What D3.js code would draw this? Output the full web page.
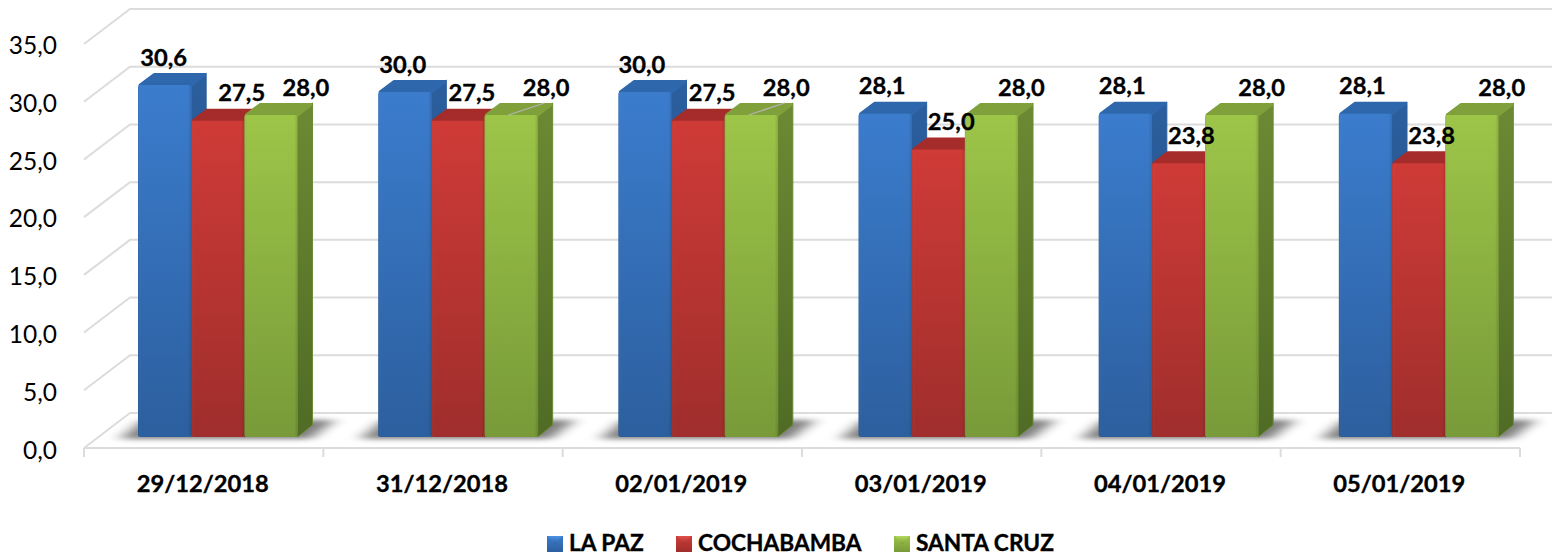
<!DOCTYPE html>
<html><head><meta charset="utf-8">
<script src="https://cdn.jsdelivr.net/npm/d3@7/dist/d3.min.js"></script>
<style>html,body{margin:0;padding:0;background:#fff}svg{display:block}text{font-family:Lato,sans-serif;fill:#000}text.b{stroke:#000;stroke-width:.35px}</style>
</head><body><svg id="c" width="1552" height="555"></svg>
<script>
const categories=["29/12/2018","31/12/2018","02/01/2019","03/01/2019","04/01/2019","05/01/2019"];
const seriesNames=["LA PAZ","COCHABAMBA","SANTA CRUZ"];
const laPaz=[30.6,30.0,30.0,28.1,28.1,28.1];
const cochabamba=[27.5,27.5,27.5,25.0,23.8,23.8];
const santaCruz=[28.0,28.0,28.0,28.0,28.0,28.0];
const seriesValues=[laPaz,cochabamba,santaCruz];
const tickValues=[0,5,10,15,20,25,30,35];
// label nudges in px, as placed by hand in the original
const labelDx=[[-1,-2,-3,-3,-3,-3],[24,14,14,13,13,13],[35,35,35,30,30,30]];
const leaderCategories=["31/12/2018","02/01/2019"];
const palette=[
 {hi:"#4d92e6",top:"#3b7ccd",bot:"#2c5f9e",lid:"#2f67ad",sideT:"#2c5f9f",sideB:"#1f4a7d"},
 {hi:"#e2504c",top:"#cf3b37",bot:"#9f2e2c",lid:"#a52c2a",sideT:"#8f2725",sideB:"#7a2120"},
 {hi:"#b4da5c",top:"#9dc548",bot:"#789a39",lid:"#7fa03b",sideT:"#6c8a33",sideB:"#506b25"}];
const fmt=v=>v.toFixed(1).replace(".",",");
const svg=d3.select("#c"),defs=svg.append("defs");
const W=1552,dx=15,dy=-12;
const yBar=d3.scaleLinear().domain([0,35]).range([437,437-35*11.5]);
const yWall=d3.scaleLinear().domain([0,35]).range([413,9]);
const yTick=d3.scaleLinear().domain([0,35]).range([450,45]);
const xAxis=d3.scaleBand().domain(categories).range([84,1520]);
const xGroup=d3.scaleBand().domain(categories).range([84,1525]);
const xBar=d3.scaleBand().domain(d3.range(3)).range([54,54+159.5]);
// gradients
palette.forEach((p,i)=>{
 const g=defs.append("linearGradient").attr("id","f"+i).attr("x1",0).attr("x2",0).attr("y1",0).attr("y2",1);
 g.append("stop").attr("offset",0).attr("stop-color",p.top);
 g.append("stop").attr("offset",1).attr("stop-color",p.bot);
 const s=defs.append("linearGradient").attr("id","s"+i).attr("x1",0).attr("x2",0).attr("y1",0).attr("y2",1);
 s.append("stop").attr("offset",0).attr("stop-color",p.sideT);
 s.append("stop").attr("offset",1).attr("stop-color",p.sideB);
 const e=defs.append("linearGradient").attr("id","e"+i).attr("x1",0).attr("x2",1).attr("y1",0).attr("y2",0);
 e.append("stop").attr("offset",0).attr("stop-color","#000").attr("stop-opacity",.08);
 e.append("stop").attr("offset",.06).attr("stop-color","#fff").attr("stop-opacity",0);
 e.append("stop").attr("offset",.94).attr("stop-color","#000").attr("stop-opacity",0);
 e.append("stop").attr("offset",1).attr("stop-color","#000").attr("stop-opacity",.12);
 const l=defs.append("linearGradient").attr("id","l"+i).attr("x1",0).attr("x2",0).attr("y1",0).attr("y2",1);
 l.append("stop").attr("offset",0).attr("stop-color",p.hi);
 l.append("stop").attr("offset",1).attr("stop-color",p.bot);
});
const blur=defs.append("filter").attr("id","blur").attr("filterUnits","userSpaceOnUse").attr("x",0).attr("y",380).attr("width",1552).attr("height",90);
blur.append("feGaussianBlur").attr("stdDeviation","8 2.5");
const grid="#dcdcdc";
// walls and gridlines
const gg=svg.append("g").attr("fill","none").attr("stroke",grid).attr("stroke-width",2);
tickValues.forEach(t=>{
 const yb=yWall(t);
 gg.append("path").attr("d",d3.line()([[84,yb+35],[130,yb],[W,yb]]));
});
// floor
gg.append("path").attr("d",d3.line()([[84,448],[1520,448]]));
categories.forEach(c=>gg.append("path").attr("d",`M${xAxis(c)},448V457`));
gg.append("path").attr("d","M1520,448V457");
// shadows
const shadow=svg.append("g");
categories.forEach(c=>{
 const x0=xGroup(c)+xBar(0);
 shadow.append("path").attr("filter","url(#blur)").attr("fill","#000").attr("opacity",.5)
  .attr("d",d3.line()([[x0-18,439],[x0+5,420],[x0+197,420],[x0+172,439]])+"Z");
});
// bars
const bars=svg.append("g");
categories.forEach((c,ci)=>{
 [0,1,2].forEach(si=>{
  const v=seriesValues[si][ci];
  const x=xGroup(c)+xBar(si),w=xBar.bandwidth(),yt=yBar(v),yb=yBar(0);
  const g=bars.append("g");
  g.append("path").attr("fill",`url(#s${si})`).attr("stroke",palette[si].sideT).attr("stroke-width",1).attr("stroke-linejoin","round")
   .attr("d",d3.line()([[x+w,yt],[x+w+dx,yt+dy],[x+w+dx,yb+dy],[x+w,yb]])+"Z");
  g.append("path").attr("fill",palette[si].lid).attr("stroke",palette[si].lid).attr("stroke-width",3).attr("stroke-linejoin","round")
   .attr("d",d3.line()([[x+2,yt],[x+dx+1,yt+dy+1.5],[x+w+dx-1.5,yt+dy+1.5],[x+w,yt]])+"Z");
  g.append("rect").attr("x",x).attr("y",yt).attr("width",w).attr("height",yb-yt).attr("rx",2).attr("fill",`url(#f${si})`);
  g.append("rect").attr("x",x).attr("y",yt).attr("width",w).attr("height",yb-yt).attr("rx",2).attr("fill",`url(#e${si})`);
 });
});
// leader lines on the two green lids
leaderCategories.forEach(c=>{
 const x=xGroup(c)+xBar(2),y=yBar(santaCruz[categories.indexOf(c)]);
 svg.append("path").attr("fill","none").attr("stroke","#b5b5b5").attr("stroke-width",1.3)
  .attr("d",d3.line()([[x+24,y],[x+60,y-12]]));
});
const txt=svg.append("g");
tickValues.forEach(t=>txt.append("text").attr("x",57).attr("y",yTick(t)).attr("dy","0.36em")
 .attr("text-anchor","end").attr("font-size",24.5).text(fmt(t))); 
categories.forEach(c=>txt.append("text").attr("class","b").attr("x",xAxis(c)+xAxis.bandwidth()/2-1).attr("y",483)
 .attr("dy","0.36em").attr("text-anchor","middle").attr("font-size",23.7).attr("font-weight",700).text(c));
seriesValues.forEach((vals,si)=>vals.forEach((v,ci)=>{
 const c=categories[ci],x=xGroup(c)+xBar(si)+xBar.bandwidth()/2+labelDx[si][ci];
 txt.append("text").attr("class","b").attr("x",x).attr("y",yBar(v)-28).attr("dy","0.36em")
  .attr("text-anchor","middle").attr("font-size",23.7).attr("font-weight",700).text(fmt(v));
}));
// legend
const legendX=[547,676,894];
const leg=svg.append("g");
seriesNames.forEach((n,i)=>{
 const x=legendX[i];
 leg.append("rect").attr("x",x).attr("y",536).attr("width",16).attr("height",16).attr("fill",`url(#f${i})`);
 leg.append("path").attr("fill",`url(#l${i})`).attr("d",d3.line()([[x+1,536],[x+15,536],[x+8,545]])+"Z");
 leg.append("text").attr("class","b").attr("x",x+22).attr("y",543).attr("dy","0.36em").attr("font-size",22.7).attr("font-weight",700).text(n);
});
</script></body></html>
